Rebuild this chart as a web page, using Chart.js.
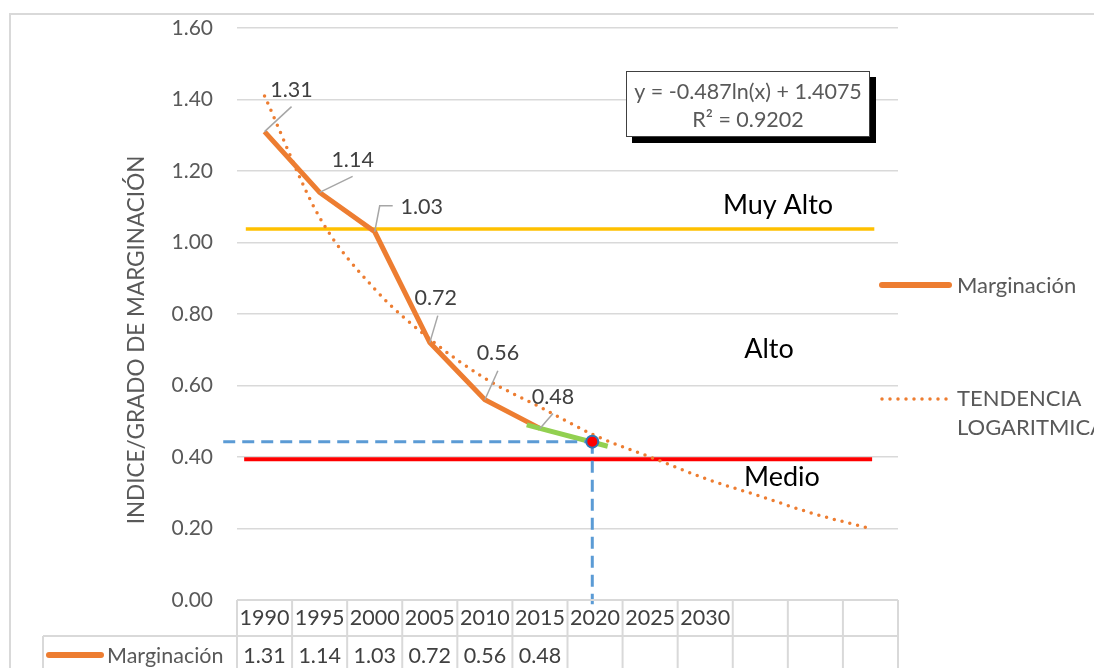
<!DOCTYPE html>
<html>
<head>
<meta charset="utf-8">
<script src="https://cdn.jsdelivr.net/npm/chart.js@4.4.0/dist/chart.umd.min.js"></script>
<style>
  body { margin: 0; background: #fff; }
</style>
</head>
<body>
<canvas id="myChart" width="1094" height="668"></canvas>
<script>
'use strict';

// ************* DATA *******************
const years = ['1990', '1995', '2000', '2005', '2010', '2015', '2020', '2025', '2030', '', '', ''];
const marginacion = [1.31, 1.14, 1.03, 0.72, 0.56, 0.48, null, null, null, null, null, null];
const yTicks = [0, 0.2, 0.4, 0.6, 0.8, 1.0, 1.2, 1.4, 1.6];

// logarithmic trend at each category
const tendencia = [1.41, 1.07, 0.87, 0.73, 0.62, 0.54, 0.46, 0.40, 0.34, 0.29, 0.24, 0.20];

// drawn shapes, in category-index / value units
const muyAltoLine = [{x: -0.34, y: 1.038}, {x: 11.07, y: 1.038}];
const medioLine = [{x: -0.37, y: 0.3935}, {x: 11.03, y: 0.3935}];
const greenSegment = [{x: 4.76, y: 0.49}, {x: 6.23, y: 0.43}];
const blueHorizontal = [{x: -0.75, y: 0.443}, {x: 5.9, y: 0.443}];
const blueVertical = [{x: 5.95, y: 0.443}, {x: 5.95, y: -0.012}];
const estimate2020 = [{x: 5.95, y: 0.443}];

const FONT = 'Lato, "Open Sans", sans-serif';
const ORANGE = '#ED7D31';
const GRID = '#d9d9d9';

// label offsets from each point: text centre and leader line
const labelOffsets = [
  {tx: 27, ty: -42, lead: [[27, -25]]},
  {tx: 33, ty: -32, lead: [[33, -16]]},
  {tx: 47, ty: -25, lead: [[5, -26], [18, -26]]},
  {tx: 6, ty: -45, lead: [[8, -27]]},
  {tx: 13, ty: -47, lead: [[13, -29]]},
  {tx: 13, ty: -31, lead: [[13, -15]]}
];

function font(size) {
  return size + 'px ' + FONT;
}

// ******* PLUGIN FOR EXCEL-STYLE EXTRAS *******
const extrasPlugin = {
  id: 'extras',
  beforeDraw(chart) {
    const c = chart.ctx;
    c.save();
    c.fillStyle = '#fff';
    c.fillRect(0, 0, chart.width, chart.height);
    c.strokeStyle = GRID;
    c.lineWidth = 2;
    c.strokeRect(10, 14, 1300, 900);
    c.restore();
  },
  afterDatasetsDraw(chart) {
    const c = chart.ctx;
    const meta = chart.getDatasetMeta(chart.data.datasets.findIndex(d => d.label === 'Marginación'));
    c.save();
    // data labels
    c.font = font(21.5);
    c.fillStyle = '#404040';
    c.textAlign = 'center';
    c.textBaseline = 'middle';
    c.strokeStyle = '#a6a6a6';
    c.lineWidth = 1.5;
    for (let i = 0; i < marginacion.length; i++) {
      if (marginacion[i] === null) continue;
      const p = meta.data[i];
      const o = labelOffsets[i];
      c.beginPath();
      c.moveTo(p.x, p.y);
      o.lead.forEach(pt => c.lineTo(p.x + pt[0], p.y + pt[1]));
      c.stroke();
      c.fillText(marginacion[i].toFixed(2), p.x + o.tx, p.y + o.ty);
    }
    c.restore();
  },
  afterDraw(chart) {
    const c = chart.ctx;
    const area = chart.chartArea;
    const xs = chart.scales.x;
    const colW = (area.right - area.left) / years.length;
    c.save();

    // y axis title
    c.save();
    c.translate(137, 340);
    c.rotate(-Math.PI / 2);
    c.font = font(22.5);
    c.fillStyle = '#595959';
    c.textAlign = 'center';
    c.textBaseline = 'middle';
    c.fillText('INDICE/GRADO DE MARGINACIÓN', 0, 0);
    c.restore();

    // equation box
    c.fillStyle = '#000';
    c.fillRect(632, 77, 244, 66);
    c.fillStyle = '#fff';
    c.fillRect(626, 71, 244, 66);
    c.strokeStyle = '#404040';
    c.lineWidth = 1;
    c.strokeRect(626.5, 71.5, 243, 65);
    c.font = font(21.5);
    c.fillStyle = '#595959';
    c.textAlign = 'center';
    c.textBaseline = 'middle';
    c.fillText('y = -0.487ln(x) + 1.4075', 748, 92);
    c.fillText('R² = 0.9202', 748, 120);

    // zone names
    c.font = font(27);
    c.fillStyle = '#000';
    c.fillText('Muy Alto', 778, 205);
    c.fillText('Alto', 769, 349);
    c.fillText('Medio', 782, 477);

    // legend
    c.lineCap = 'round';
    c.strokeStyle = ORANGE;
    c.lineWidth = 6;
    c.beginPath();
    c.moveTo(882, 285);
    c.lineTo(949, 285);
    c.stroke();
    c.lineWidth = 3.5;
    c.setLineDash([0, 8]);
    c.beginPath();
    c.moveTo(882, 399);
    c.lineTo(950, 399);
    c.stroke();
    c.setLineDash([]);
    c.font = font(22);
    c.fillStyle = '#595959';
    c.textAlign = 'left';
    c.fillText('Marginación', 957, 286);
    c.fillText('TENDENCIA', 957, 399);
    c.fillText('LOGARITMICA', 957, 428);

    // data table
    const top = area.bottom;
    const mid = top + 36;
    const bottom = chart.height + 10;
    c.strokeStyle = GRID;
    c.lineWidth = 2;
    c.lineCap = 'butt';
    c.beginPath();
    c.moveTo(area.left, top);
    c.lineTo(area.right, top);
    c.moveTo(43, mid);
    c.lineTo(area.right, mid);
    c.moveTo(43, mid);
    c.lineTo(43, bottom);
    for (let i = 0; i <= years.length; i++) {
      const x = area.left + i * colW;
      c.moveTo(x, top);
      c.lineTo(x, bottom);
    }
    c.stroke();

    c.font = font(21.5);
    c.fillStyle = '#404040';
    c.textAlign = 'center';
    for (let i = 0; i < years.length; i++) {
      const x = xs.getPixelForValue(i);
      c.fillText(years[i], x, top + 18);
      if (marginacion[i] !== null) {
        c.fillText(marginacion[i].toFixed(2), x, mid + 20);
      }
    }
    c.strokeStyle = ORANGE;
    c.lineWidth = 6;
    c.lineCap = 'round';
    c.beginPath();
    c.moveTo(49, mid + 19);
    c.lineTo(101, mid + 19);
    c.stroke();
    c.textAlign = 'left';
    c.fillStyle = '#595959';
    c.fillText('Marginación', 107, mid + 20);

    c.restore();
  }
};

// ******* CHART *******
const ctx = document.getElementById('myChart').getContext('2d');

const chartObj = {
  type: 'line',
  data: {
    labels: years,
    datasets: [
      {
        label: 'Estimado 2020',
        data: estimate2020,
        xAxisID: 'x2',
        showLine: false,
        pointRadius: 6,
        pointBackgroundColor: '#ff0000',
        pointBorderColor: '#2e75b6',
        pointBorderWidth: 2,
        clip: false
      },
      {
        label: 'guia horizontal',
        data: blueHorizontal,
        xAxisID: 'x2',
        borderColor: '#5B9BD5',
        borderWidth: 3,
        borderDash: [12, 7],
        pointRadius: 0,
        clip: false
      },
      {
        label: 'guia vertical',
        data: blueVertical,
        xAxisID: 'x2',
        borderColor: '#5B9BD5',
        borderWidth: 3,
        borderDash: [12, 7],
        pointRadius: 0,
        clip: false
      },
      {
        label: 'pendiente',
        data: greenSegment,
        xAxisID: 'x2',
        borderColor: '#92D050',
        borderWidth: 5,
        pointRadius: 0,
        clip: false
      },
      {
        label: 'Marginación',
        data: marginacion,
        borderColor: ORANGE,
        borderWidth: 5,
        pointRadius: 0,
        tension: 0,
        spanGaps: false,
        clip: false
      },
      {
        label: 'TENDENCIA LOGARITMICA',
        data: tendencia.map((v, i) => ({x: i, y: v})),
        xAxisID: 'x2',
        borderColor: ORANGE,
        borderWidth: 3.5,
        borderDash: [0, 8],
        borderCapStyle: 'round',
        cubicInterpolationMode: 'monotone',
        pointRadius: 0,
        clip: false
      },
      {
        label: 'Medio',
        data: medioLine,
        xAxisID: 'x2',
        borderColor: '#FF0000',
        borderWidth: 4,
        pointRadius: 0,
        clip: false
      },
      {
        label: 'Muy Alto',
        data: muyAltoLine,
        xAxisID: 'x2',
        borderColor: '#FFC000',
        borderWidth: 3.5,
        pointRadius: 0,
        clip: false
      }
    ]
  },
  options: {
    responsive: false,
    animation: false,
    layout: {
      padding: {left: 0, right: 196, top: 28, bottom: 68}
    },
    plugins: {
      legend: {display: false},
      tooltip: {enabled: false}
    },
    scales: {
      x: {
        type: 'category',
        display: false,
        offset: true
      },
      x2: {
        type: 'linear',
        display: false,
        min: -0.5,
        max: 11.5
      },
      y: {
        min: 0,
        max: 1.6,
        afterFit: s => {
          s.width = 237;
          s.paddingTop = 0;
          s.paddingBottom = 0;
        },
        afterBuildTicks: s => { s.ticks = yTicks.map(v => ({value: v})); },
        border: {display: false},
        grid: {color: GRID, lineWidth: 1.5, drawTicks: false},
        ticks: {
          padding: 24,
          color: '#595959',
          font: {family: FONT, size: 21},
          callback: v => Number(v).toFixed(2)
        }
      }
    }
  },
  plugins: [extrasPlugin]
};

const myChart = new Chart(ctx, chartObj);
</script>
</body>
</html>
